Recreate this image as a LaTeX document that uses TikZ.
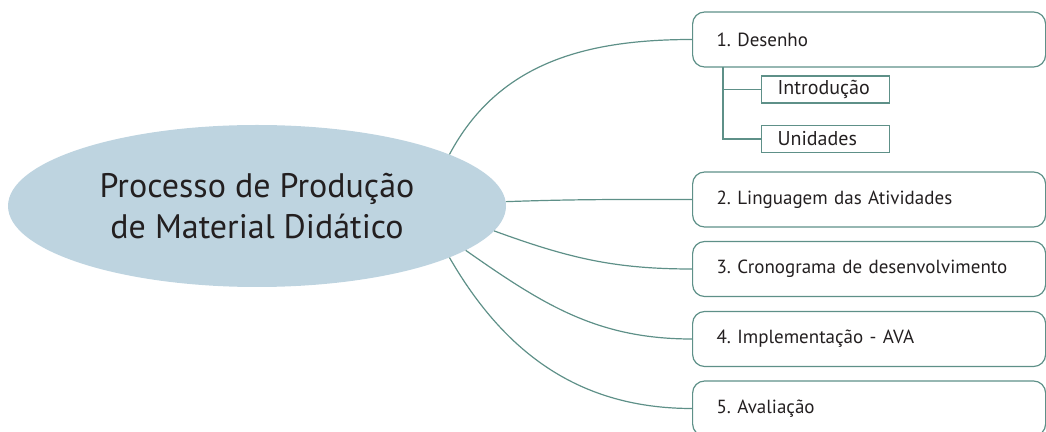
\documentclass[tikz,border=0pt]{standalone}
\usepackage{fontspec}
\setmainfont{PT Sans}
\usepackage{tikz}
\usetikzlibrary{shapes.geometric}
\definecolor{linha}{RGB}{94,144,136}
\definecolor{elipse}{RGB}{190,212,224}
\definecolor{texto}{RGB}{35,31,32}
\tikzstyle{raiz} = [ellipse, fill=elipse, minimum width=498pt, minimum height=162pt, inner sep=0pt, align=center, text=texto, font=\fontsize{34}{41}\selectfont]
\tikzstyle{etapa} = [draw=linha, line width=1.2pt, rounded corners=12pt, anchor=west, minimum width=353pt, minimum height=55pt, text width=305pt, inner xsep=24pt, align=left, text=texto, font=\fontsize{19}{22}\selectfont]
\tikzstyle{sub} = [draw=linha, line width=1.2pt, anchor=west, minimum width=128pt, minimum height=27pt, text width=96pt, inner xsep=16pt, align=left, text=texto, font=\fontsize{20}{22}\selectfont]
\tikzstyle{ramo} = [draw=linha, line width=1.2pt]
\frenchspacing

\begin{document}
\begin{tikzpicture}[x=1pt,y=1pt]
	\useasboundingbox (0,0) rectangle (1046,431);
	\node[raiz] (root) at (257,225) {Processo de Produção\\de Material Didático};
	\node[etapa] (e1) at (692,391.5) {1. Desenho};
	\node[etapa] (e2) at (692,231.5) {2. Linguagem das Atividades};
	\node[etapa] (e3) at (692,162) {3. Cronograma de desenvolvimento};
	\node[etapa] (e4) at (692,92) {4. Implementação - AVA};
	\node[etapa] (e5) at (692,22.5) {5. Avaliação};
	\node[sub] (i1) at (761,341.5) {Introdução};
	\node[sub] (i2) at (761,292) {Unidades};
	\coordinate (tronco) at (723,364);
	% ramos
	\draw[ramo] (root.15.7) to[out=62,in=180] (e1.west);
	\draw[ramo] (root.1.8) to[out=2,in=180] (e2.west);
	\draw[ramo] (root.-6.9) to[out=-20,in=180] (e3.west);
	\draw[ramo] (root.-12.9) to[out=-35,in=180] (e4.west);
	\draw[ramo] (root.-15.2) to[out=-60,in=180] (e5.west);
	\draw[ramo] (tronco) |- (i1.west);
	\draw[ramo] (tronco) |- (i2.west);
\end{tikzpicture}
\end{document}
